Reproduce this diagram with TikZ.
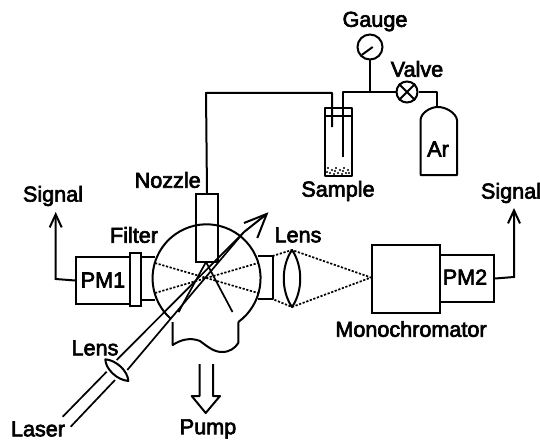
\documentclass[tikz,border=0pt]{standalone}
\usepackage{fontspec}
\newfontfamily\labfont[FakeBold=3]{Liberation Sans}
\usetikzlibrary{arrows.meta}
\tikzset{
  x=1pt,y=1pt,
  lab/.style={font=\labfont\fontsize{21.6}{21.6}\selectfont,inner sep=0pt,text=black},
  boxn/.style={draw,line width=2pt,inner sep=0pt,fill=white,anchor=north west},
  ln/.style={line width=2pt,line join=round},
  thin line/.style={line width=1.7pt},
  dots/.style={line width=1.7pt,dash pattern=on 2.2pt off 1.6pt},
  sig/.style={line width=2pt,-{Straight Barb[length=13pt,width=12pt,line width=2pt]}}
}
\begin{document}
\begin{tikzpicture}
\useasboundingbox (0,-441) rectangle (540,0);
% optical rays
\coordinate (cham) at (205.5,-276);
\draw[dots] (155,-263) -- (258,-293);
\draw[dots] (155,-293) -- (258,-263);
% chamber
\draw[ln] (238.3,-322) arc[start angle=-54,end angle=229,radius=54];
\draw[ln] (172.7,-322) -- (172.7,-345) .. controls (180,-340) and (190,-337) .. (200,-341)
   .. controls (208,-347) and (214,-352) .. (222,-352) .. controls (230,-352) and (235,-348) .. (238.3,-343) -- (238.3,-322);
% jet cone
\coordinate (jet) at (206,-262);
\draw[thin line] (jet) -- (178.5,-312);
\draw[thin line] (jet) -- (232.5,-312);
% nozzle
\node[boxn,minimum width=22pt,minimum height=68pt,fill=none] (nozzle) at (195,-193) {};
% left side
\draw[ln] (140,-257) -- (155,-257) (140,-300) -- (155,-300);
\node[boxn,minimum width=54pt,minimum height=47pt] (pm1) at (75,-256) {};
\node[lab] at (103,-280) {PM1};
\node[boxn,minimum width=11pt,minimum height=53pt] (filter) at (129,-252) {};
\coordinate (sigL) at (55.7,-279);
\draw[sig] (pm1.west) -- (sigL) -- (55.7,-212);
% right side
\draw[ln] (258,-256) -- (272.5,-256) -- (272.5,-299) -- (258,-299);
\coordinate (lensT) at (292,-250);
\coordinate (lensB) at (292,-307);
\draw[dots] (272.5,-256) -- (lensT) -- (371,-277.5) -- (lensB) -- (272.5,-299);
\draw[ln,fill=white] (lensT) .. controls (281,-266) and (281,-291) .. (lensB)
   .. controls (303,-291) and (303,-266) .. (lensT) -- cycle;
\node[boxn,minimum width=68pt,minimum height=68pt] (mono) at (371,-244) {};
\node[boxn,minimum width=54pt,minimum height=47pt] (pm2) at (439,-254) {};
\node[lab] at (465,-277) {PM2};
\coordinate (sigR) at (514,-277);
\draw[sig] (pm2.east) -- (sigR) -- (514,-208);
% laser beam
\draw[thin line] (62.7,-416.7) -- (106.7,-371.7);
\draw[thin line] (70.7,-426.7) -- (115,-380);
\draw[thin line] (116.7,-360) -- (244,-232);
\draw[thin line] (127.3,-370) -- (244,-232);
\draw[ln,line join=miter] (244,-232) -- (266.7,-214);
\draw[ln,line join=miter] (244,-223) -- (266.7,-214) -- (257.3,-238);
\draw[line width=1.4pt] (181,-307) -- (179,-312);
\draw[ln,fill=white] (105.3,-359.3) .. controls (116,-360) and (128,-371) .. (128.3,-381)
   .. controls (117,-380) and (105.5,-369) .. (105.3,-359.3) -- cycle;
% pump
\draw[ln] (199.5,-364) -- (199.5,-396) -- (191.7,-396) -- (205.7,-413) -- (220,-396) -- (213,-396) -- (213,-364);
% pipework
\coordinate (pipeA) at (206,-93);
\coordinate (pipeB) at (332,-93);
\coordinate (pipeC) at (343,-92);
\node[draw,line width=2pt,circle,minimum size=21pt,inner sep=0pt] (valve) at (407,-92) {};
\draw[ln] (valve.45) -- (valve.225) (valve.135) -- (valve.-45);
\draw[ln] (nozzle.north) -- (pipeA) -- (pipeB) -- (332,-127);
\draw[ln] (343,-157) -- (pipeC) -- (valve.west);
\node[draw,line width=2pt,circle,minimum size=25pt,inner sep=0pt] (gauge) at (370,-47) {};
\draw[ln] (gauge.south) -- (370,-92);
\draw[ln] (361.7,-55) -- (372.7,-47);
% bottle
\draw[ln] (420.5,-175) -- (420.5,-120) .. controls (421,-113) and (430,-107) .. (438,-107)
  .. controls (446,-107) and (456,-113) .. (457,-120) -- (457,-175) -- cycle;
\draw[ln] (valve.east) -- (437,-92) -- (437,-107);
% vial
\draw[ln] (325,-108) rectangle (352,-176);
\draw[ln] (325,-116) -- (352,-116);
\foreach \i/\j in {328/168,332/170,336/168,340/170,344/168,348/170,330/173,334/174,338/173,342/174,346/173,349/173,327/172,335/171,343/171}
  \fill (\i,-\j) circle[radius=1.1pt];
% labels
\node[lab] (tgauge) at (375,-21.5) {Gauge};
\node[lab] (tvalve) at (417,-69) {Valve};
\node[lab] (tar) at (438,-149) {Ar};
\node[lab] (tsample) at (338,-191) {Sample};
\node[lab] (tnozzle) at (167.7,-180) {Nozzle};
\node[lab] (tsigl) at (53,-196) {Signal};
\node[lab] (tfilter) at (134,-235) {Filter};
\node[lab] (tlensa) at (95,-348) {Lens};
\node[lab] (tlaser) at (38,-429) {Laser};
\node[lab] (tpump) at (208,-429) {Pump};
\node[lab] (tlensb) at (298,-235) {Lens};
\node[lab] (tsigr) at (511,-193) {Signal};
\node[lab] (tmono) at (411,-329) {Monochromator};
\end{tikzpicture}
\end{document}
